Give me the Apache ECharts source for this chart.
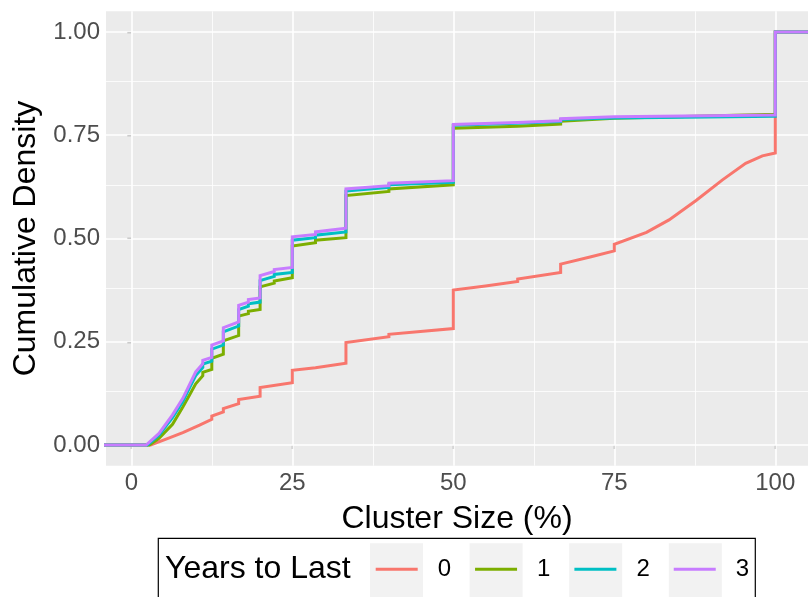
<!DOCTYPE html>
<html>
<head>
<meta charset="utf-8">
<script src="https://cdn.jsdelivr.net/npm/echarts@6/dist/echarts.min.js"></script>
<style>
html,body{margin:0;padding:0;background:#fff;}
#chart{width:808px;height:597px;}
</style>
</head>
<body>
<div id="chart"></div>
<script>
// ---- data ----
const seriesNames = ['0', '1', '2', '3'];
const seriesColors = ['#F8766D', '#7CAE00', '#00BFC4', '#C77CFF'];

const ecdf0 = [[-5,0],[3,0],[5.4,0.014],[8,0.03],[10.6,0.048],[12.5,0.062],[12.5,0.07],[14.29,0.08],[14.29,0.088],[16.67,0.1],[16.67,0.11],[20,0.118],[20,0.139],[25,0.151],[25,0.181],[28.6,0.187],[28.6,0.191],[33.33,0.198],[33.33,0.248],[40,0.262],[40,0.268],[50,0.282],[50,0.375],[55,0.385],[60,0.396],[60,0.402],[66.67,0.418],[66.67,0.438],[71.4,0.456],[75,0.47],[75,0.486],[80,0.515],[83.5,0.545],[87.7,0.592],[91.8,0.642],[95.4,0.682],[98,0.7],[100,0.707],[100,1],[106,1]];
const ecdf1 = [[-5,0],[2.8,0],[4.3,0.016],[6.4,0.05],[8.0,0.092],[9.0,0.12],[10.0,0.148],[11.1,0.168],[11.1,0.176],[12.5,0.183],[12.5,0.21],[14.29,0.22],[14.29,0.252],[16.67,0.265],[16.67,0.312],[18.18,0.318],[18.18,0.324],[20,0.328],[20,0.383],[22.2,0.392],[22.2,0.397],[25,0.405],[25,0.482],[28.6,0.49],[28.6,0.496],[33.33,0.502],[33.33,0.604],[40,0.614],[40,0.62],[50,0.63],[50,0.767],[60,0.772],[66.67,0.777],[66.67,0.784],[75,0.791],[100,0.801],[100,1],[106,1]];
const ecdf2 = [[-5,0],[2.5,0],[4.3,0.024],[6.4,0.066],[8.0,0.105],[9.0,0.137],[10.0,0.168],[11.1,0.188],[11.1,0.196],[12.5,0.203],[12.5,0.232],[14.29,0.242],[14.29,0.274],[16.67,0.288],[16.67,0.328],[18.18,0.336],[18.18,0.342],[20,0.346],[20,0.398],[22.2,0.408],[22.2,0.413],[25,0.418],[25,0.496],[28.6,0.502],[28.6,0.508],[33.33,0.516],[33.33,0.615],[40,0.624],[40,0.63],[50,0.636],[50,0.774],[60,0.779],[66.67,0.783],[66.67,0.788],[75,0.792],[100,0.796],[100,1],[106,1]];
const ecdf3 = [[-5,0],[2.3,0],[4.3,0.028],[6.4,0.073],[8.0,0.113],[9.0,0.145],[10.0,0.177],[11.1,0.197],[11.1,0.205],[12.5,0.212],[12.5,0.242],[14.29,0.252],[14.29,0.284],[16.67,0.298],[16.67,0.338],[18.18,0.346],[18.18,0.352],[20,0.356],[20,0.41],[22.2,0.42],[22.2,0.425],[25,0.43],[25,0.504],[28.6,0.51],[28.6,0.516],[33.33,0.525],[33.33,0.62],[40,0.628],[40,0.634],[50,0.64],[50,0.776],[60,0.781],[66.67,0.785],[66.67,0.79],[75,0.795],[100,0.799],[100,1],[106,1]];
const seriesData = [ecdf0, ecdf1, ecdf2, ecdf3];

const xTicks = [0, 25, 50, 75, 100];
const xMinor = [12.5, 37.5, 62.5, 87.5];
const yTicks = [0, 0.25, 0.5, 0.75, 1];
const yMinor = [0.125, 0.375, 0.625, 0.875];
const xRange = [-3.93, 105.08];
const yRange = [-0.05, 1.05];

// ---- chart ----
const FONT = 'Liberation Sans, Arial, Helvetica, sans-serif';
const chart = echarts.init(document.getElementById('chart'), null, {renderer: 'canvas'});

const gridLines = [];
xMinor.forEach(v => gridLines.push({xAxis: v, lineStyle: {width: 0.8}}));
yMinor.forEach(v => gridLines.push({yAxis: v, lineStyle: {width: 0.8}}));
xTicks.forEach(v => gridLines.push({xAxis: v, lineStyle: {width: 1.6}}));
yTicks.forEach(v => gridLines.push({yAxis: v, lineStyle: {width: 1.6}}));

const series = [{
  name: '__grid', type: 'line', data: [], silent: true, z: 1,
  markLine: {
    silent: true, symbol: 'none', animation: false, z: 1,
    label: {show: false},
    lineStyle: {color: '#FFFFFF', type: 'solid', width: 1},
    emphasis: {disabled: true},
    data: gridLines
  }
}];
seriesNames.forEach((n, i) => {
  series.push({
    name: n, type: 'line', data: seriesData[i], showSymbol: false, symbol: 'none',
    z: 3 + i, clip: true, animation: false,
    lineStyle: {color: seriesColors[i], width: 3, join: 'miter'},
    itemStyle: {color: seriesColors[i]},
    emphasis: {disabled: true}
  });
});

// legend layout constants
const legIconLeft = 375.7, legIconW = 42, legTextPad = 15, legGap = 24;
const legStep = 99.6;
const keyRects = seriesNames.map((n, i) => ({
  type: 'rect', silent: true, z: 0,
  shape: {x: legIconLeft - 5.7 + i * legStep, y: 543.3, width: 53, height: 60},
  style: {fill: '#F2F2F2'}
}));

chart.setOption({
  animation: false,
  backgroundColor: '#FFFFFF',
  color: seriesColors,
  grid: {left: 106, right: 0, top: 11.35, bottom: 131.35, show: true, backgroundColor: '#EBEBEB', borderWidth: 0},
  xAxis: {
    type: 'value', min: xRange[0], max: xRange[1],
    name: 'Cluster Size (%)', nameLocation: 'middle', nameGap: 38,
    nameTextStyle: {fontFamily: FONT, fontSize: 32, color: '#000000'},
    axisLine: {show: false},
    axisTick: {show: true, length: 4, customValues: xTicks, lineStyle: {color: '#333333', width: 1.2}},
    axisLabel: {customValues: xTicks, fontFamily: FONT, fontSize: 24, color: '#4D4D4D', margin: 6},
    splitLine: {show: false}
  },
  yAxis: {
    type: 'value', min: yRange[0], max: yRange[1],
    name: 'Cumulative Density', nameLocation: 'middle', nameGap: 62, nameRotate: 90,
    nameTextStyle: {fontFamily: FONT, fontSize: 32, color: '#000000'},
    axisLine: {show: false},
    axisTick: {show: true, length: 4, customValues: yTicks, lineStyle: {color: '#333333', width: 1.2}},
    axisLabel: {customValues: yTicks, fontFamily: FONT, fontSize: 24, color: '#4D4D4D', margin: 6,
      formatter: v => v.toFixed(2)},
    splitLine: {show: false}
  },
  legend: {
    data: seriesNames,
    orient: 'horizontal',
    left: legIconLeft, top: 557.3, padding: 0,
    itemWidth: legIconW, itemHeight: 3, itemGap: legGap,
    icon: 'rect',
    selectedMode: false,
    textStyle: {fontFamily: FONT, fontSize: 24, color: '#000000', padding: [0, 0, 0, legTextPad], lineHeight: 24}
  },
  graphic: [
    ...keyRects,
    {type: 'rect', silent: true, z: 0,
      shape: {x: 158.3, y: 538.3, width: 597, height: 80},
      style: {fill: 'none', stroke: '#000000', lineWidth: 1.2}},
    {type: 'text', silent: true, z: 1, x: 165, y: 569,
      style: {text: 'Years to Last', font: '32px ' + FONT, fill: '#000000', verticalAlign: 'middle', align: 'left'}}
  ],
  series: series
});
</script>
</body>
</html>
